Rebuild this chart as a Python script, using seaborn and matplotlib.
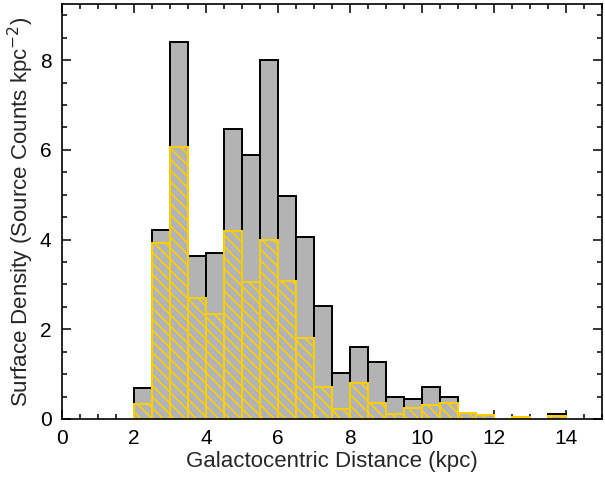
import numpy as np
import pandas as pd
import matplotlib
matplotlib.use("Agg")
import matplotlib.pyplot as plt
import seaborn as sns

# Bin edges (kpc) and values (surface density, source counts kpc^-2)
bin_left = [2.0, 2.5, 3.0, 3.5, 4.0, 4.5, 5.0, 5.5, 6.0, 6.5, 7.0, 7.5, 8.0, 8.5,
            9.0, 9.5, 10.0, 10.5, 11.0, 11.5, 12.0, 12.5, 13.0, 13.5]
all_density = [0.69, 4.22, 8.40, 3.64, 3.71, 6.47, 5.88, 8.00, 4.98, 4.05, 2.51, 1.02,
               1.60, 1.27, 0.48, 0.45, 0.71, 0.48, 0.14, 0.08, 0.0, 0.05, 0.0, 0.11]
sub_density = [0.33, 3.93, 6.06, 2.69, 2.35, 4.20, 3.05, 3.98, 3.08, 1.80, 0.72, 0.23,
               0.80, 0.35, 0.11, 0.25, 0.31, 0.35, 0.14, 0.08, 0.0, 0.05, 0.0, 0.06]
bin_width = 0.5

xticks = [0, 2, 4, 6, 8, 10, 12, 14]
yticks = [0, 2, 4, 6, 8]

centers = np.array(bin_left) + bin_width / 2
edges = list(bin_left) + [bin_left[-1] + bin_width]
df = pd.DataFrame({"dist": centers, "all": all_density, "sub": sub_density})

sns.set_theme(style="ticks")
plt.rcParams['font.family'] = ['Liberation Sans', 'DejaVu Sans']
plt.rcParams['hatch.linewidth'] = 1.1

fig = plt.figure(figsize=(6.05, 4.79), dpi=100)
ax = fig.add_axes([0.1025, 0.1253, 0.8925, 0.8663])

gray = '#b3b3b3'
gold = '#ffd000'

sns.histplot(data=df, x="dist", weights="all", bins=edges, stat="count",
             color=gray, alpha=1, edgecolor='black', linewidth=1.4, ax=ax)
n_first = len(ax.patches)
sns.histplot(data=df, x="dist", weights="sub", bins=edges, stat="count",
             color=gray, alpha=1, edgecolor=gold, linewidth=1.4, ax=ax)
for p in ax.patches[n_first:]:
    p.set_hatch('\\\\\\')
    p.set_facecolor(gray)
    p.set_edgecolor(gold)
    if p.get_height() <= 0:
        p.set_visible(False)
for p in ax.patches[:n_first]:
    if p.get_height() <= 0:
        p.set_visible(False)

ax.set_xlim(0, 15)
ax.set_ylim(0, 9.25)
ax.set_xticks(xticks)
ax.set_yticks(yticks)
ax.set_xticks(np.arange(0, 15.01, 0.5), minor=True)
ax.set_yticks(np.arange(0, 9.26, 0.5), minor=True)
ax.tick_params(which='both', direction='in', top=True, right=True, colors='black',
               labelsize=15, width=1.1)
ax.tick_params(which='major', length=6.5, pad=7.5)
ax.tick_params(which='minor', length=3.3)
for s in ax.spines.values():
    s.set_linewidth(1.2)
    s.set_color('black')

ax.set_xlabel('Galactocentric Distance (kpc)', fontsize=16, labelpad=2)
ax.set_ylabel('Surface Density (Source Counts kpc$^{-2}$)', fontsize=16, labelpad=3)

fig.savefig('out.png', dpi=100)
